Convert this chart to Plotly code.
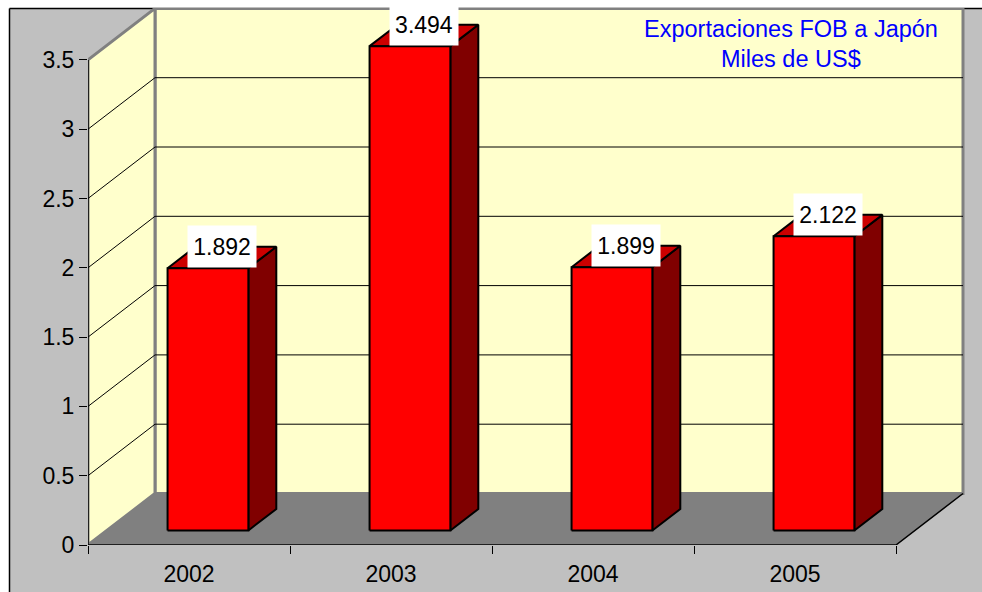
import plotly.graph_objects as go

# ---- data ----
years = ["2002", "2003", "2004", "2005"]
values = [1.892, 3.494, 1.899, 2.122]
value_labels = ["1.892", "3.494", "1.899", "2.122"]
y_tick_vals = [0, 0.5, 1, 1.5, 2, 2.5, 3, 3.5]
y_tick_text = ["0", "0.5", "1", "1.5", "2", "2.5", "3", "3.5"]
title_lines = ["Exportaciones FOB a Japón", "Miles de US$"]

# ---- geometry (pixels) ----
W, H = 982, 592
LEFT_PX, BASE_PX = 88, 545
PX_PER_CAT = 202.0
PX_PER_UNIT = 138.6
DEPTH_DX_PX, DEPTH_DY_PX = 67.0, 51.5
M_T, M_R = 8, 8
M_L, M_B = LEFT_PX, H - BASE_PX
plot_w = W - M_L - M_R
plot_h = H - M_T - M_B

DX = DEPTH_DX_PX / PX_PER_CAT      # depth offset in category units
DY = DEPTH_DY_PX / PX_PER_UNIT     # depth offset in value units
YMAX = y_tick_vals[-1]
X0, X1 = -0.5, len(years) - 0.5
BAR_W = 0.40
Z1, Z2 = 0.283, 0.70

FONT = "Liberation Sans, Arial, sans-serif"
FS = 23
FS_TITLE = 23.5

C_BG = "#c0c0c0"
C_WALL = "#ffffcc"
C_FLOOR = "#808080"
C_EDGE = "#808080"
C_FRONT = "#ff0000"
C_TOP = "#cc0000"
C_SIDE = "#800000"

fig = go.Figure()


def poly(xs, ys, fill, line_color, line_width):
    fig.add_trace(go.Scatter(
        x=list(xs) + [xs[0]], y=list(ys) + [ys[0]], mode="lines",
        fill="toself", fillcolor=fill,
        line=dict(color=line_color, width=line_width),
        hoverinfo="skip", showlegend=False))


def seg(xs, ys, color, width):
    fig.add_trace(go.Scatter(
        x=xs, y=ys, mode="lines", line=dict(color=color, width=width),
        hoverinfo="skip", showlegend=False))


def px_to_paper_x(px):
    return (px - M_L) / plot_w


def px_to_paper_y(py):
    return (H - M_B - py) / plot_h


# back wall
poly([X0 + DX, X1 + DX, X1 + DX, X0 + DX],
     [DY, DY, YMAX + DY, YMAX + DY], C_WALL, C_EDGE, 3)
# left wall
poly([X0, X0 + DX, X0 + DX, X0],
     [0, DY, YMAX + DY, YMAX], C_WALL, C_EDGE, 3)
# floor
poly([X0, X1, X1 + DX, X0 + DX], [0, 0, DY, DY], C_FLOOR, C_FLOOR, 0.5)

# gridlines
for v in y_tick_vals[1:-1]:
    seg([X0, X0 + DX, X1 + DX], [v, v + DY, v + DY], "#000000", 1)

# axis lines
seg([X0, X0], [0, YMAX], "#000000", 1.5)
seg([X0, X1, X1 + DX], [0, 0, DY], "#000000", 1.5)

# bars
for i, v in enumerate(values):
    xl, xr = i - BAR_W / 2, i + BAR_W / 2
    poly([xr + Z1 * DX, xr + Z2 * DX, xr + Z2 * DX, xr + Z1 * DX],
         [Z1 * DY, Z2 * DY, v + Z2 * DY, v + Z1 * DY], C_SIDE, "#000000", 2)
    poly([xl + Z1 * DX, xr + Z1 * DX, xr + Z2 * DX, xl + Z2 * DX],
         [v + Z1 * DY, v + Z1 * DY, v + Z2 * DY, v + Z2 * DY], C_TOP, "#000000", 2)
    poly([xl + Z1 * DX, xr + Z1 * DX, xr + Z1 * DX, xl + Z1 * DX],
         [Z1 * DY, Z1 * DY, v + Z1 * DY, v + Z1 * DY], C_FRONT, "#000000", 2)

# data labels
zm = (Z1 + Z2) / 2
for i, (v, t) in enumerate(zip(values, value_labels)):
    fig.add_annotation(
        x=i + zm * DX, y=v + Z1 * DY, xref="x", yref="y",
        text=t, showarrow=False, xanchor="center", yanchor="bottom",
        bgcolor="#ffffff", borderpad=0, width=68, height=41,
        font=dict(family=FONT, size=FS, color="#000000"))

# title lines
for line, py in zip(title_lines, [28.5, 59.0]):
    fig.add_annotation(
        x=px_to_paper_x(791), y=px_to_paper_y(py), xref="paper", yref="paper",
        text=line, showarrow=False, xanchor="center", yanchor="middle",
        font=dict(family=FONT, size=FS_TITLE, color="#0000ff"))

# white outer strips (top and left) and black chart-area border
fig.add_shape(type="rect", xref="paper", yref="paper", layer="below",
              x0=px_to_paper_x(0), x1=px_to_paper_x(W),
              y0=px_to_paper_y(8.5), y1=px_to_paper_y(0),
              fillcolor="#ffffff", line=dict(width=0))
fig.add_shape(type="rect", xref="paper", yref="paper", layer="below",
              x0=px_to_paper_x(0), x1=px_to_paper_x(9.5),
              y0=px_to_paper_y(H), y1=px_to_paper_y(0),
              fillcolor="#ffffff", line=dict(width=0))
fig.add_shape(type="line", xref="paper", yref="paper", layer="below",
              x0=px_to_paper_x(9.5), x1=px_to_paper_x(W),
              y0=px_to_paper_y(8.5), y1=px_to_paper_y(8.5),
              line=dict(color="#000000", width=1.5))
fig.add_shape(type="line", xref="paper", yref="paper", layer="below",
              x0=px_to_paper_x(9.5), x1=px_to_paper_x(9.5),
              y0=px_to_paper_y(8.5), y1=px_to_paper_y(H),
              line=dict(color="#000000", width=1.5))

fig.update_layout(
    width=W, height=H,
    margin=dict(l=M_L, r=M_R, t=M_T, b=M_B, pad=0, autoexpand=False),
    paper_bgcolor=C_BG, plot_bgcolor="rgba(0,0,0,0)",
    font=dict(family=FONT, size=FS, color="#000000"),
    showlegend=False,
    xaxis=dict(range=[X0, X0 + plot_w / PX_PER_CAT], showgrid=False, zeroline=False,
               showline=False, tickmode="array", tickvals=list(range(len(years))),
               ticktext=years, ticks="outside", ticklen=8, tickcolor="rgba(0,0,0,0)",
               minor=dict(tickmode="array",
                          tickvals=[k - 0.5 for k in range(len(years) + 1)],
                          ticks="outside", ticklen=8, tickcolor="#000000", tickwidth=1),
               fixedrange=True),
    yaxis=dict(range=[0, plot_h / PX_PER_UNIT], showgrid=False, zeroline=False,
               showline=False, tickmode="array", tickvals=y_tick_vals,
               ticktext=y_tick_text, ticks="outside", ticklen=8,
               tickcolor="#000000", tickwidth=1, fixedrange=True),
)

fig.write_html(
    "out.html",
    config={"displayModeBar": False},
    post_script="document.body.style.margin='0';"
                "document.body.style.overflow='hidden';"
                "document.documentElement.style.overflow='hidden';",
)
